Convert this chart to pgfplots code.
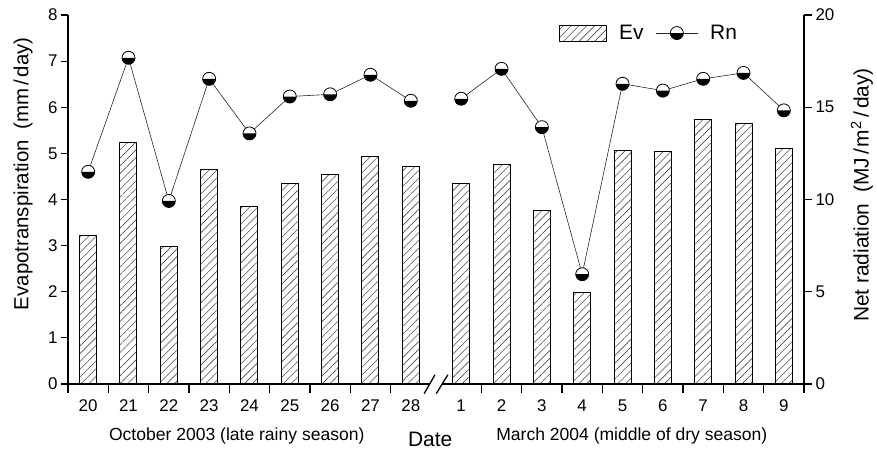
\documentclass[border=0pt]{standalone}
\usepackage{fontspec}
\setmainfont{Liberation Sans}
\usepackage{pgfplots}
\usepackage{pgfplotstable}
\pgfplotsset{compat=1.18}
\usetikzlibrary{patterns.meta}

\pgfdeclareplotmark{halfbot}{%
  \pgfpathcircle{\pgfpointorigin}{\pgfplotmarksize}%
  \pgfsetfillcolor{white}%
  \pgfusepath{fill}%
  \pgfpathmoveto{\pgfpoint{-\pgfplotmarksize}{0pt}}%
  \pgfpatharc{180}{360}{\pgfplotmarksize}%
  \pgfpathclose
  \pgfsetfillcolor{black}%
  \pgfusepath{fill}%
  \pgfpathcircle{\pgfpointorigin}{\pgfplotmarksize}%
  \pgfusepath{stroke}%
}

\tikzset{hatch/.style={pattern={Lines[angle=45,distance=5.5bp,line width=0.6bp]}, pattern color=black!70}}

\pgfplotsset{
  rnlegend/.style={legend image code/.code={\draw[mark repeat=2, mark phase=2, ##1] plot coordinates {(0bp,0bp) (21bp,0bp) (42bp,0bp)};}},
}

\pgfplotstableread{
x ev
0 3.22
1 5.24
2 2.99
3 4.65
4 3.85
5 4.34
6 4.55
7 4.94
8 4.71
9.25 4.35
10.25 4.76
11.25 3.77
12.25 1.98
13.25 5.06
14.25 5.05
15.25 5.74
16.25 5.64
17.25 5.11
}\evdata

\pgfplotstableread{
x rn
0 11.5
1 17.68
2 9.92
3 16.54
4 13.58
5 15.58
6 15.7
7 16.76
8 15.35
}\rnoct

\pgfplotstableread{
x rn
9.25 15.46
10.25 17.08
11.25 13.92
12.25 5.95
13.25 16.27
14.25 15.9
15.25 16.54
16.25 16.86
17.25 14.83
}\rnmar

\begin{document}
\begin{tikzpicture}
\pgfplotsset{
  base/.style={scale only axis, width=736bp, height=369bp,
    xmin=-0.5, xmax=17.75, clip=false,
    /pgf/number format/assume math mode=true,
    axis line style={line width=1.2bp, black},
    tick style={line width=1.2bp, black},
    tick align=outside,
    tick label style={font=\fontsize{17}{20}\selectfont},
  },
}
\begin{axis}[base, name=a1,
  ymin=0, ymax=8, ytick={0,1,2,3,4,5,6,7,8},
  axis y line*=left, axis x line*=bottom,
  xtick={0,1,2,3,4,5,6,7,8,9.25,10.25,11.25,12.25,13.25,14.25,15.25,16.25,17.25},
  xticklabels={20,21,22,23,24,25,26,27,28,1,2,3,4,5,6,7,8,9},
  minor xtick={-0.5,0.5,1.5,2.5,3.5,4.5,5.5,6.5,7.5,9.75,10.75,11.75,12.75,13.75,14.75,15.75,16.75,17.75},
  major x tick style={draw=none},
  minor tick length=9bp,
  major tick length=7bp,
  xticklabel style={yshift=-5bp},
]
\addplot[ybar, bar width=17bp, draw=black, line width=1bp, hatch] table[x=x,y=ev]{\evdata};
% axis break
\fill[white] (axis cs:8.47,-0.06) rectangle (axis cs:8.78,0.06);
\draw[line width=1.3bp] (axis cs:8.33,-0.21) -- (axis cs:8.60,0.20);
\draw[line width=1.3bp] (axis cs:8.63,-0.21) -- (axis cs:8.92,0.20);
% labels
\node[rotate=90, font=\fontsize{20.5}{24}\selectfont] at ([xshift=-45bp]rel axis cs:0,0.57) {Evapotranspiration\hspace{0.5em}(mm\hspace{0.15em}/\hspace{0.15em}day)};
\node[anchor=base, font=\fontsize{21}{24}\selectfont] at ([yshift=-63bp]rel axis cs:0.492,0) {Date};
\node[anchor=base, font=\fontsize{17.6}{20}\selectfont] at ([yshift=-57bp]rel axis cs:0.2293,0) {October 2003 (late rainy season)};
\node[anchor=base, font=\fontsize{17.6}{20}\selectfont] at ([yshift=-57bp]rel axis cs:0.766,0) {March 2004 (middle of dry season)};
\end{axis}

\begin{axis}[base,
  ymin=0, ymax=20, ytick={0,5,10,15,20},
  axis y line*=right, axis x line=none,
  major tick length=8bp,
  legend style={at={(0.663,0.951)}, anchor=west, draw=none, fill=none,
    legend columns=-1, font=\fontsize{21}{24}\selectfont,
    /tikz/every odd column/.append style={column sep=10bp},
    /tikz/every even column/.append style={column sep=10bp}},
]
\addlegendimage{legend image code/.code={\draw[line width=1bp, hatch] (0bp,-8bp) rectangle (47bp,8bp);}}
\addlegendentry{Ev}
\addplot[black!85, line width=0.6bp, mark=halfbot, mark size=6.5bp, mark options={line width=0.8bp, solid, black}, rnlegend]
  table[x=x,y=rn]{\rnoct};
\addlegendentry{Rn}
\addplot[black!85, line width=0.6bp, mark=halfbot, mark size=6.5bp, mark options={line width=0.8bp, solid, black}, forget plot]
  table[x=x,y=rn]{\rnmar};
\node[rotate=90, font=\fontsize{21}{24}\selectfont] at ([xshift=58bp]rel axis cs:1,0.512) {Net radiation\hspace{0.5em}(MJ\hspace{0.15em}/\hspace{0.1em}m\textsuperscript{2}\hspace{0.15em}/\hspace{0.15em}day)};
\end{axis}
\path ([xshift=-68bp,yshift=-73bp]a1.south west) rectangle ([xshift=73bp,yshift=15bp]a1.north east);
\end{tikzpicture}
\end{document}
